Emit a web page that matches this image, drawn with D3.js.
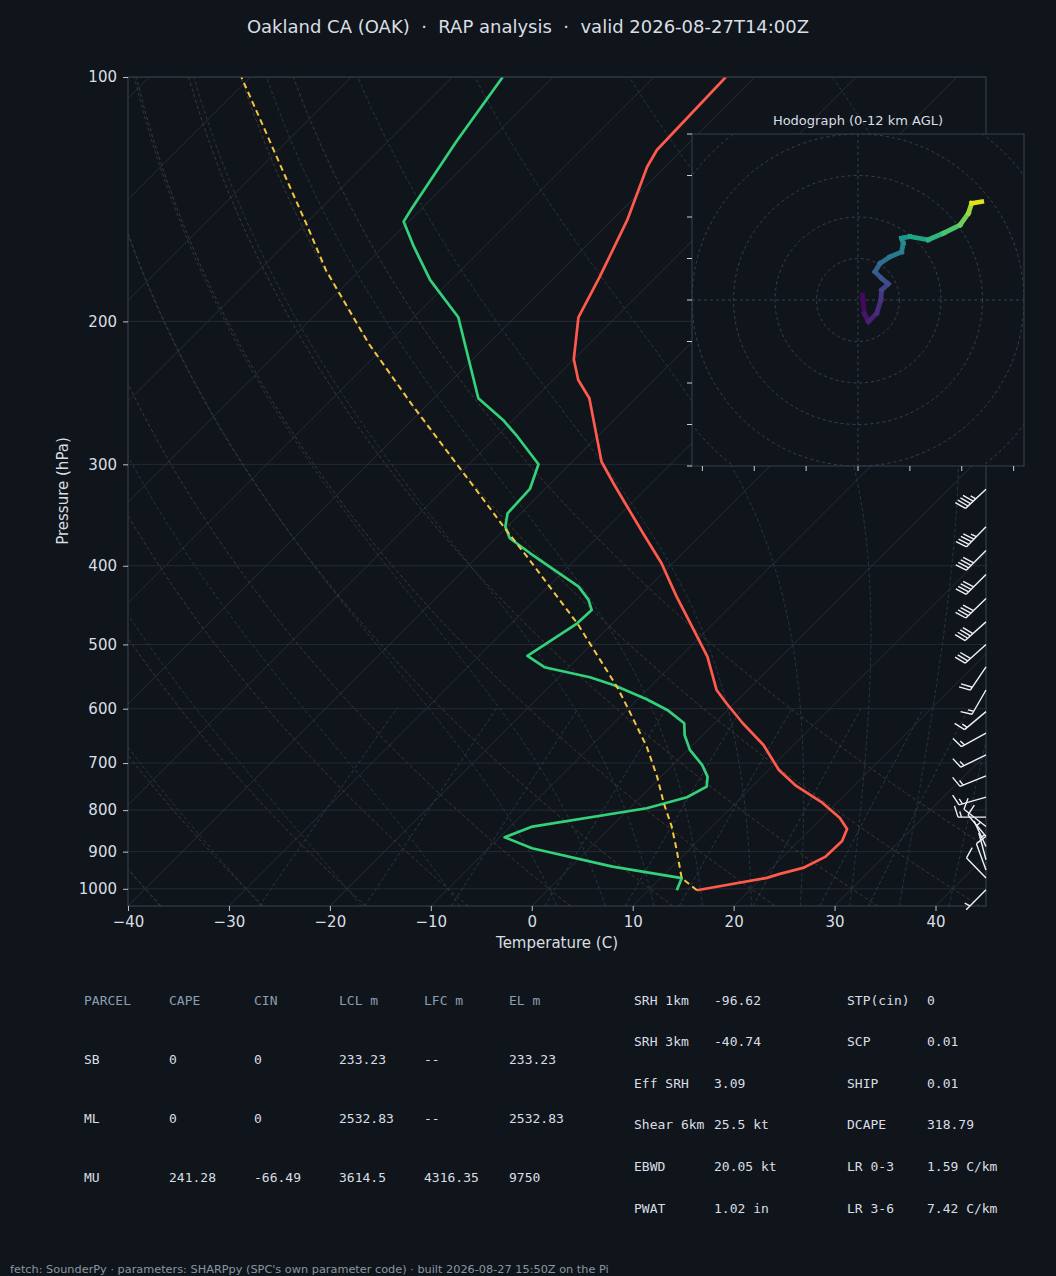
<!DOCTYPE html>
<html>
<head>
<meta charset="utf-8">
<script src="https://cdn.jsdelivr.net/npm/d3@7"></script>
<style>
  html, body { margin: 0; padding: 0; background: #10151c; }
  svg { display: block; }
</style>
</head>
<body>
<div id="chart"></div>
<script>
/**
 * DATA
 * */
// temperature profile: pressure (hPa), temperature (C)
const tempP = [1004, 969.6, 958.6, 942.5, 913.5, 873, 843.8, 817.9, 783.8, 746.9, 713.8, 665, 625.3, 590.8, 568.9, 517.7, 479.9, 436.6, 397.2, 364.8, 338.3, 316.5, 297.8, 248.7, 236.2, 222.7, 197.7, 176.2, 150, 129, 123, 100];
const tempC = [14.8, 20.5, 21.4, 23.1, 24.2, 24.3, 23.6, 21.8, 18.6, 14.3, 11.0, 7.0, 2.8, -0.8, -3.1, -7.3, -11.3, -16.3, -21.1, -25.9, -30.1, -33.8, -37.1, -44.6, -47.5, -50.0, -53.7, -55.6, -58.5, -61.8, -62.5, -62.9];

// dewpoint profile
const dewP = [1004, 970.4, 939.1, 891.3, 864, 838.3, 795.7, 771.2, 748.4, 727.5, 703.7, 674.4, 646.4, 625.3, 602.1, 584.1, 560.9, 548.8, 533.4, 516.6, 470.9, 453.4, 440.7, 424.4, 386.1, 370, 358, 344.7, 321.7, 299.9, 277.4, 264.5, 248.7, 197.7, 177.8, 161.8, 150.7, 145.1, 120.1, 100];
const dewC = [12.8, 12.1, 4.1, -5.7, -9.5, -7.8, 1.7, 4.6, 5.5, 4.6, 2.9, 0.2, -1.8, -3.0, -6.0, -9.1, -13.8, -16.9, -22.4, -25.2, -23.5, -23.4, -24.7, -27.0, -35.1, -38.6, -40.2, -41.3, -41.5, -43.1, -47.9, -51.0, -55.6, -65.6, -72.1, -77.0, -80.5, -81.0, -83.2, -85.0];

// surface-based parcel path
const parcelP = [1004, 970.4, 895.6, 838.3, 784.5, 727.5, 668.2, 596.5, 563.6, 470.9, 391.6, 359.6, 321.1, 254.7, 212.9, 172.9, 152.9, 133.9, 115.1, 100];
const parcelC = [14.8, 12.1, 8.8, 6.0, 2.9, -0.4, -4.4, -10.3, -13.3, -23.5, -34.8, -40.1, -47.0, -61.2, -71.9, -83.4, -89.5, -96.2, -103.8, -110.9];

// wind barbs: pressure (hPa), direction from (deg), speed (kt)
const barbP = [322, 358, 383, 410, 439, 469, 500, 533, 569, 605, 643, 684, 726, 771, 816, 838, 862, 887, 921, 948, 970, 1003];
const barbDir = [227, 224, 225, 225, 226, 228, 228, 214, 210, 230, 241, 244, 248, 254, 270, 308, 320, 335, 345, 340, 316, 225];
const barbSpd = [45, 45, 40, 40, 40, 40, 30, 20, 15, 15, 15, 15, 15, 15, 15, 10, 10, 5, 5, 10, 10, 5];

// hodograph (kt) and height (km AGL)
const hodoU = [1.1, 1.5, 2.5, 4.5, 5.5, 5.7, 7.3, 5.7, 4.1, 5.3, 7.7, 10.5, 10.9, 10.5, 12.5, 16.9, 20.6, 24.6, 26.6, 27.4, 29.8];
const hodoV = [1.2, -3.2, -5.2, -3.2, 0, 2.4, 3.9, 5.2, 6.8, 8.8, 10.4, 11.6, 13.7, 14.9, 15.3, 14.5, 16.1, 18.1, 20.9, 23.3, 23.7];
const hodoH = [0, 0.5, 0.9, 1.3, 1.7, 2.1, 2.6, 3.0, 3.5, 4.0, 4.6, 5.2, 5.6, 6.0, 6.6, 7.4, 8.2, 9.0, 9.8, 10.8, 12.0];
const hodoRings = [10, 20, 30, 40, 50, 60];
const hodoXTicks = [-37.5, -25, -12.5, 0, 12.5, 25, 37.5];
const hodoYTicks = [-40, -30, -20, -10, 0, 10, 20, 30, 40];

// axis ticks
const pressureTicks = [100, 200, 300, 400, 500, 600, 700, 800, 900, 1000];
const tempTicks = [-40, -30, -20, -10, 0, 10, 20, 30, 40];

// background reference lines
const isotherms = d3.range(-140, 50, 10);
const dryTheta = d3.range(-40, 60, 10);
const moistT0 = [-40, -30, -20, -10].concat(d3.range(0, 50, 5));
const mixRatios = [0.4, 1, 2, 4, 7, 10, 16, 24, 32];

// parameter tables
const parcelHeader = ["PARCEL", "CAPE", "CIN", "LCL m", "LFC m", "EL m"];
const parcelRows = [
  ["SB", "0", "0", "233.23", "--", "233.23"],
  ["ML", "0", "0", "2532.83", "--", "2532.83"],
  ["MU", "241.28", "-66.49", "3614.5", "4316.35", "9750"]
];
const kinLabels = ["SRH 1km", "SRH 3km", "Eff SRH", "Shear 6km", "EBWD", "PWAT"];
const kinValues = ["-96.62", "-40.74", "3.09", "25.5 kt", "20.05 kt", "1.02 in"];
const thermoLabels = ["STP(cin)", "SCP", "SHIP", "DCAPE", "LR 0-3", "LR 3-6"];
const thermoValues = ["0", "0.01", "0.01", "318.79", "1.59 C/km", "7.42 C/km"];

/**
 * CONSTANTS
 * */
const width = 1056, height = 1276;
const box = { x0: 128, x1: 986, y0: 77, y1: 906 };
const hbox = { x0: 692, x1: 1024, y0: 134, y1: 466 };
const bg = "#10151c", spine = "#36414e", textCol = "#d9dee4", headCol = "#8d9db0";
const sans = "DejaVu Sans, sans-serif", mono = "DejaVu Sans Mono, monospace";

const svg = d3.select("#chart").append("svg")
  .attr("width", width).attr("height", height)
  .style("background", bg);

svg.append("rect").attr("width", width).attr("height", height).attr("fill", bg);

// scales: log pressure, skewed temperature (45 deg in pixels)
const x = d3.scaleLinear().domain([-40, 45]).range([box.x0, box.x1]);
const y = d3.scaleLog().domain([1050, 100]).range([box.y1, box.y0]);
const skew = (t, p) => x(t) + (box.y1 - y(p));
const profLine = d3.line().x(d => skew(d[1], d[0])).y(d => y(d[0]));

const defs = svg.append("defs");
defs.append("clipPath").attr("id", "plotclip")
  .append("rect").attr("x", box.x0).attr("y", box.y0)
  .attr("width", box.x1 - box.x0).attr("height", box.y1 - box.y0);
defs.append("clipPath").attr("id", "hodoclip")
  .append("rect").attr("x", hbox.x0).attr("y", hbox.y0)
  .attr("width", hbox.x1 - hbox.x0).attr("height", hbox.y1 - hbox.y0);

const plot = svg.append("g").attr("clip-path", "url(#plotclip)");

// pressure levels used for the reference curves
const levels = d3.range(1050, 100, -10).concat([100]);

// isobars
plot.selectAll(".isobar").data(pressureTicks).join("line")
  .attr("x1", box.x0).attr("x2", box.x1)
  .attr("y1", d => y(d)).attr("y2", d => y(d))
  .attr("stroke", "#252e38").attr("stroke-width", 0.9);

// isotherms
plot.selectAll(".isotherm").data(isotherms).join("line")
  .attr("x1", d => skew(d, 1050)).attr("y1", y(1050))
  .attr("x2", d => skew(d, 100)).attr("y2", y(100))
  .attr("stroke", "#28303a").attr("stroke-width", 0.9);

// dry adiabats
const dryLines = dryTheta.map(th => levels.map(p => [p, (th + 273.15) * Math.pow(p / 1000, 0.2857) - 273.15]));
plot.selectAll(".dry").data(dryLines).join("path")
  .attr("d", profLine).attr("fill", "none")
  .attr("stroke", "#4a412f").attr("stroke-width", 0.8)
  .attr("stroke-dasharray", "3.5,2.5");

// moist adiabats (pseudo-adiabatic lapse rate, RK4 in pressure)
const Rd = 287.047, Cp = 1004.67, Lv = 2.501e6, eps = 0.622;
function satMix(p, tk) {
  const tc = tk - 273.15;
  const es = 6.112 * Math.exp(17.67 * tc / (tc + 243.5));
  return eps * es / (p - es);
}
function dTdp(p, tk) {
  const rs = satMix(p, tk);
  return (Rd * tk + Lv * rs) / (Cp + Lv * Lv * rs * eps / (Rd * tk * tk)) / p;
}
function rk4(p, tk, h) {
  const k1 = dTdp(p, tk), k2 = dTdp(p + h / 2, tk + h / 2 * k1);
  const k3 = dTdp(p + h / 2, tk + h / 2 * k2), k4 = dTdp(p + h, tk + h * k3);
  return tk + h / 6 * (k1 + 2 * k2 + 2 * k3 + k4);
}
function moistCurve(t0) {
  const pts = [[1000, t0]];
  let p = 1000, tk = t0 + 273.15;
  while (p < 1050) { tk = rk4(p, tk, 5); p += 5; pts.unshift([p, tk - 273.15]); }
  p = 1000; tk = t0 + 273.15;
  while (p > 100) {
    const tc = tk - 273.15;
    if (6.112 * Math.exp(17.67 * tc / (tc + 243.5)) > 0.5 * p) break;
    tk = rk4(p, tk, -5); p -= 5; pts.push([p, tk - 273.15]);
  }
  return pts;
}
plot.selectAll(".moist").data(moistT0.map(moistCurve)).join("path")
  .attr("d", profLine).attr("fill", "none")
  .attr("stroke", "#293f4b").attr("stroke-width", 0.8)
  .attr("stroke-dasharray", "3.5,2.5");

// mixing ratio lines (1050 -> 600 hPa)
const mixLevels = d3.range(1050, 595, -15);
const mixLines = mixRatios.map(w => mixLevels.map(p => {
  const ws = w / 1000, e = p * ws / (eps + ws), l = Math.log(e / 6.112);
  return [p, 243.5 * l / (17.67 - l)];
}));
plot.selectAll(".mix").data(mixLines).join("path")
  .attr("d", profLine).attr("fill", "none")
  .attr("stroke", "#2b4350").attr("stroke-width", 0.8)
  .attr("stroke-dasharray", "3.5,2.5");

// profiles
plot.append("path").datum(d3.zip(dewP, dewC))
  .attr("d", profLine).attr("fill", "none")
  .attr("stroke", "#33d17a").attr("stroke-width", 2.7).attr("stroke-linejoin", "round");
plot.append("path").datum(d3.zip(tempP, tempC))
  .attr("d", profLine).attr("fill", "none")
  .attr("stroke", "#ff5a4c").attr("stroke-width", 2.7).attr("stroke-linejoin", "round");
plot.append("path").datum(d3.zip(parcelP, parcelC))
  .attr("d", profLine).attr("fill", "none")
  .attr("stroke", "#f4c542").attr("stroke-width", 2).attr("stroke-dasharray", "6,4");

// frame
svg.append("rect").attr("x", box.x0).attr("y", box.y0)
  .attr("width", box.x1 - box.x0).attr("height", box.y1 - box.y0)
  .attr("fill", "none").attr("stroke", spine).attr("stroke-width", 1.1);

// axes
const xAxis = svg.append("g").attr("transform", `translate(0,${box.y1})`)
  .call(d3.axisBottom(x).tickValues(tempTicks).tickSize(5).tickPadding(5));
const yAxis = svg.append("g").attr("transform", `translate(${box.x0},0)`)
  .call(d3.axisLeft(y).tickValues(pressureTicks).tickFormat(d => d).tickSize(5).tickPadding(6));
[xAxis, yAxis].forEach(a => {
  a.select(".domain").remove();
  a.selectAll("line").attr("stroke", "#b8c0c8");
  a.selectAll("text").attr("fill", textCol).style("font-family", sans).style("font-size", "15px");
});

svg.append("text").attr("x", 557).attr("y", 948).attr("text-anchor", "middle")
  .attr("fill", textCol).style("font-family", sans).style("font-size", "15px")
  .text("Temperature (C)");
svg.append("text").attr("transform", "translate(68,491) rotate(-90)").attr("text-anchor", "middle")
  .attr("fill", textCol).style("font-family", sans).style("font-size", "15px")
  .text("Pressure (hPa)");

svg.append("text").attr("x", 528).attr("y", 33).attr("text-anchor", "middle")
  .attr("fill", textCol).style("font-family", sans).style("font-size", "18px")
  .style("white-space", "pre").attr("xml:space", "preserve")
  .text("Oakland CA (OAK)  \u00b7  RAP analysis  \u00b7  valid 2026-08-27T14:00Z");

// wind barbs at the right edge (matplotlib barb geometry)
const L = 28;
function barbGeom(px, py, dir, spd) {
  const rad = dir * Math.PI / 180;
  const u = -spd * Math.sin(rad), v = -spd * Math.cos(rad);
  const s = spd || 1;
  const sx = -u / s, sy = v / s, nx = -v / s, ny = -u / s;
  const h = 0.4 * L, w = 0.25 * L, sp = 0.125 * L;
  let r = Math.round(spd / 5) * 5;
  const nflags = Math.floor(r / 50); r -= nflags * 50;
  const nbarbs = Math.floor(r / 10); r -= nbarbs * 10;
  const half = r >= 5;
  const P = d => [px + sx * d, py + sy * d];
  const segs = [[P(0), P(L)]], flags = [];
  let off = L;
  for (let i = 0; i < nflags; i++) {
    if (off !== L) off += sp / 2;
    const b = P(off - w / 2);
    flags.push([P(off), [b[0] + nx * h, b[1] + ny * h], P(off - w)]);
    off -= w + sp;
  }
  for (let i = 0; i < nbarbs; i++) {
    const b = P(off + w / 2);
    segs.push([P(off), [b[0] + nx * h, b[1] + ny * h]]);
    off -= sp;
  }
  if (half) {
    if (off === L) off -= 1.5 * sp;
    const b = P(off + w / 4);
    segs.push([P(off), [b[0] + nx * h / 2, b[1] + ny * h / 2]]);
  }
  return { segs, flags };
}
const barbG = svg.append("g");
barbP.forEach((p, i) => {
  const g = barbGeom(box.x1, y(p), barbDir[i], barbSpd[i]);
  barbG.append("path")
    .attr("d", g.segs.map(s => `M${s[0][0]},${s[0][1]}L${s[1][0]},${s[1][1]}`).join(""))
    .attr("fill", "none").attr("stroke", "#eef1f4").attr("stroke-width", 1.4);
  g.flags.forEach(f => barbG.append("polygon").attr("points", f.map(q => q.join(",")).join(" ")).attr("fill", "#eef1f4"));
});

// hodograph inset
const hx = d3.scaleLinear().domain([-40, 40]).range([hbox.x0, hbox.x1]);
const hy = d3.scaleLinear().domain([-40, 40]).range([hbox.y1, hbox.y0]);
const hodo = svg.append("g");
hodo.append("rect").attr("x", hbox.x0).attr("y", hbox.y0)
  .attr("width", hbox.x1 - hbox.x0).attr("height", hbox.y1 - hbox.y0).attr("fill", bg);
const hin = hodo.append("g").attr("clip-path", "url(#hodoclip)");
hin.selectAll("circle").data(hodoRings).join("circle")
  .attr("cx", hx(0)).attr("cy", hy(0)).attr("r", d => hx(d) - hx(0))
  .attr("fill", "none").attr("stroke", "#3a4656").attr("stroke-width", 0.9).attr("stroke-dasharray", "3,3");
hin.append("line").attr("x1", hbox.x0).attr("x2", hbox.x1).attr("y1", hy(0)).attr("y2", hy(0))
  .attr("stroke", "#3a4656").attr("stroke-width", 0.9).attr("stroke-dasharray", "3,3");
hin.append("line").attr("y1", hbox.y0).attr("y2", hbox.y1).attr("x1", hx(0)).attr("x2", hx(0))
  .attr("stroke", "#3a4656").attr("stroke-width", 0.9).attr("stroke-dasharray", "3,3");
const hsegs = d3.range(hodoU.length - 1).map(i => ({
  a: [hodoU[i], hodoV[i]], b: [hodoU[i + 1], hodoV[i + 1]], h: (hodoH[i] + hodoH[i + 1]) / 2
}));
hin.selectAll(".hseg").data(hsegs).join("line")
  .attr("x1", d => hx(d.a[0])).attr("y1", d => hy(d.a[1]))
  .attr("x2", d => hx(d.b[0])).attr("y2", d => hy(d.b[1]))
  .attr("stroke", d => d3.interpolateViridis(d.h / 12))
  .attr("stroke-width", 4.8).attr("stroke-linecap", "square");
hodo.append("rect").attr("x", hbox.x0).attr("y", hbox.y0)
  .attr("width", hbox.x1 - hbox.x0).attr("height", hbox.y1 - hbox.y0)
  .attr("fill", "none").attr("stroke", spine).attr("stroke-width", 1);
hodo.selectAll(".hyt").data(hodoYTicks).join("line")
  .attr("x1", hbox.x0 - 5).attr("x2", hbox.x0).attr("y1", d => hy(d)).attr("y2", d => hy(d))
  .attr("stroke", "#c8d0d8").attr("stroke-width", 1);
hodo.selectAll(".hxt").data(hodoXTicks).join("line")
  .attr("y1", hbox.y1).attr("y2", hbox.y1 + 5).attr("x1", d => hx(d)).attr("x2", d => hx(d))
  .attr("stroke", "#c8d0d8").attr("stroke-width", 1);
hodo.append("text").attr("x", (hbox.x0 + hbox.x1) / 2).attr("y", 124.5).attr("text-anchor", "middle")
  .attr("fill", textCol).style("font-family", sans).style("font-size", "13px")
  .text("Hodograph (0-12 km AGL)");

// parcel table
const colX = [84, 169, 254, 339, 424, 509];
const rowY = [1000, 1059, 1118, 1177];
const tbl = svg.append("g").style("font-family", mono).style("font-size", "13px");
parcelHeader.forEach((t, j) => tbl.append("text").attr("x", colX[j]).attr("y", rowY[0] + 4.5).attr("fill", headCol).text(t));
parcelRows.forEach((row, i) => row.forEach((t, j) =>
  tbl.append("text").attr("x", colX[j]).attr("y", rowY[i + 1] + 4.5).attr("fill", textCol).text(t)));

// index table
const idxY = d3.range(6).map(i => 1000 + i * 41.6);
kinLabels.forEach((t, i) => {
  tbl.append("text").attr("x", 634).attr("y", idxY[i] + 4.5).attr("fill", textCol).attr("xml:space", "preserve").text(t);
  tbl.append("text").attr("x", 714).attr("y", idxY[i] + 4.5).attr("fill", textCol).text(kinValues[i]);
  tbl.append("text").attr("x", 847).attr("y", idxY[i] + 4.5).attr("fill", textCol).text(thermoLabels[i]);
  tbl.append("text").attr("x", 927).attr("y", idxY[i] + 4.5).attr("fill", textCol).text(thermoValues[i]);
});

// footer
svg.append("text").attr("x", 10).attr("y", 1273).attr("fill", "#8a95a1")
  .style("font-family", sans).style("font-size", "11.3px")
  .text("fetch: SounderPy \u00b7 parameters: SHARPpy (SPC's own parameter code) \u00b7 built 2026-08-27 15:50Z on the Pi");
</script>
</body>
</html>
